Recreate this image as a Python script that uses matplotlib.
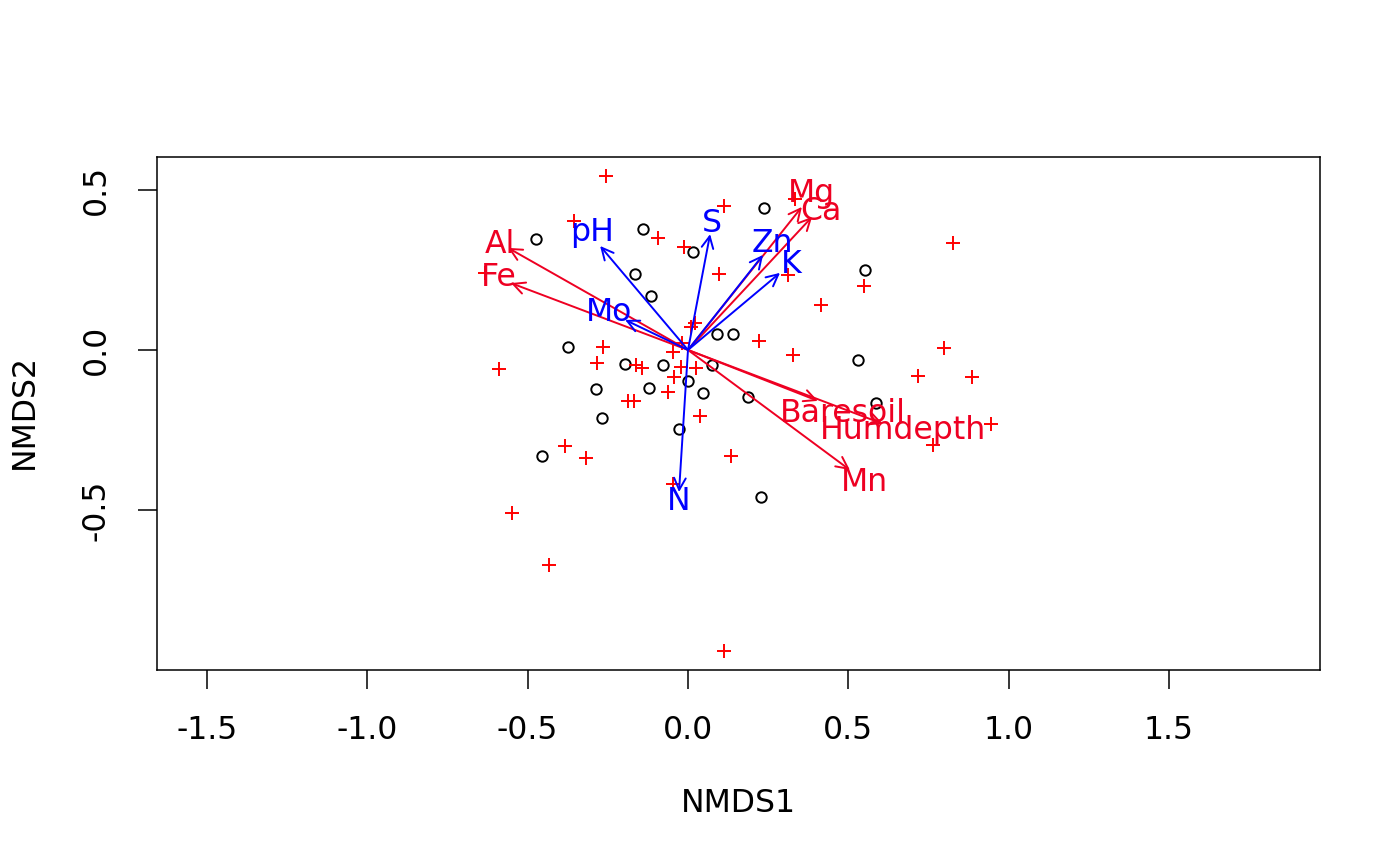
import matplotlib
matplotlib.use("Agg")
import matplotlib.pyplot as plt

# site scores (black circles)
site_x = [-0.474, -0.140, 0.015, -0.165, -0.116, 0.091, 0.141, -0.375, 0.237, 0.552,
          0.530, 0.585, 0.187, 0.076, 0.229, -0.196, -0.077, -0.287, -0.123, 0.001,
          0.046, -0.268, -0.027, -0.455]
site_y = [0.347, 0.378, 0.305, 0.238, 0.169, 0.051, 0.051, 0.010, 0.443, 0.250,
          -0.031, -0.167, -0.146, -0.048, -0.458, -0.045, -0.046, -0.123, -0.120, -0.098,
          -0.133, -0.213, -0.248, -0.332]

# species scores (red pluses)
spec_x = [-0.256, 0.112, -0.355, -0.093, -0.012, 0.097, -0.633, 0.022, 0.008, -0.266,
          -0.046, -0.020, 0.334, 0.825, 0.313, 0.550, 0.415, 0.221, 0.798, 0.328,
          0.717, 0.886, 0.945, 0.765, 0.134, 0.037, -0.588, -0.284, -0.162, -0.144,
          -0.023, 0.025, -0.043, -0.061, -0.186, -0.167, -0.384, -0.319, -0.046, -0.550,
          -0.433, 0.112]
spec_y = [0.545, 0.450, 0.404, 0.349, 0.321, 0.237, 0.240, 0.085, 0.071, 0.008,
          -0.005, 0.021, 0.471, 0.335, 0.234, 0.200, 0.141, 0.029, 0.005, -0.016,
          -0.081, -0.084, -0.231, -0.297, -0.330, -0.206, -0.059, -0.040, -0.047, -0.057,
          -0.052, -0.057, -0.085, -0.130, -0.159, -0.161, -0.299, -0.336, -0.420, -0.508,
          -0.672, -0.941]

# fitted environmental vectors: significant ones (red)
sig_names = ["Al", "Fe", "Mg", "Ca", "Baresoil", "Humdepth", "Mn"]
sig_x = [-0.561, -0.552, 0.355, 0.387, 0.405, 0.608, 0.505]
sig_y = [0.319, 0.209, 0.447, 0.416, -0.159, -0.231, -0.375]
sig_lab_x = [-0.586, -0.589, 0.384, 0.415, 0.483, 0.670, 0.549]
sig_lab_y = [0.331, 0.225, 0.488, 0.432, -0.197, -0.253, -0.414]

# non-significant ones (blue)
ns_names = ["pH", "Mo", "S", "Zn", "K", "N"]
ns_x = [-0.274, -0.196, 0.069, 0.234, 0.287, -0.028]
ns_y = [0.325, 0.094, 0.362, 0.297, 0.241, -0.444]
ns_lab_x = [-0.298, -0.246, 0.076, 0.262, 0.321, -0.028]
ns_lab_y = [0.366, 0.116, 0.394, 0.334, 0.266, -0.472]

FS = 22.7

fig = plt.figure(figsize=(14, 8.66), dpi=100)
ax = fig.add_axes([157 / 1400, 1 - 670 / 866, (1320 - 157) / 1400, (670 - 157) / 866])

ax.plot(site_x, site_y, "o", mfc="none", mec="black", ms=7.5, mew=1.4, zorder=2)
ax.plot(spec_x, spec_y, "+", color="red", ms=10, mew=1.4, zorder=2)


def draw_vectors(xs, ys, lx, ly, names, col):
    for x, y, tx, ty, nm in zip(xs, ys, lx, ly, names):
        ax.annotate("", xy=(x, y), xytext=(0, 0),
                    arrowprops=dict(arrowstyle="->,head_length=0.85,head_width=0.42",
                                    color=col, lw=1.4, shrinkA=0, shrinkB=0),
                    zorder=3)
        ax.text(tx, ty, nm, color=col, fontsize=FS, ha="center", va="center",
                zorder=4)


draw_vectors(sig_x, sig_y, sig_lab_x, sig_lab_y, sig_names, "#ee0022")
draw_vectors(ns_x, ns_y, ns_lab_x, ns_lab_y, ns_names, "blue")

ax.set_xlim(-1.6557, 1.9707)
ax.set_ylim(-1.0, 0.603)
ax.set_xticks([-1.5, -1.0, -0.5, 0.0, 0.5, 1.0, 1.5])
ax.set_xticklabels(["-1.5", "-1.0", "-0.5", "0.0", "0.5", "1.0", "1.5"])
ax.set_yticks([-0.5, 0.0, 0.5])
ax.set_yticklabels(["-0.5", "0.0", "0.5"], rotation=90, va="center")
ax.tick_params(length=13.5, width=1.1, pad=19, labelsize=FS)
for s in ax.spines.values():
    s.set_linewidth(1.1)

fig.text(738.5 / 1400, 1 - 804 / 866, "NMDS1", fontsize=FS, ha="center", va="center")
fig.text(24 / 1400, 1 - 412 / 866, "NMDS2", fontsize=FS, ha="center", va="center",
         rotation=90)

fig.savefig("out.png", dpi=100)
